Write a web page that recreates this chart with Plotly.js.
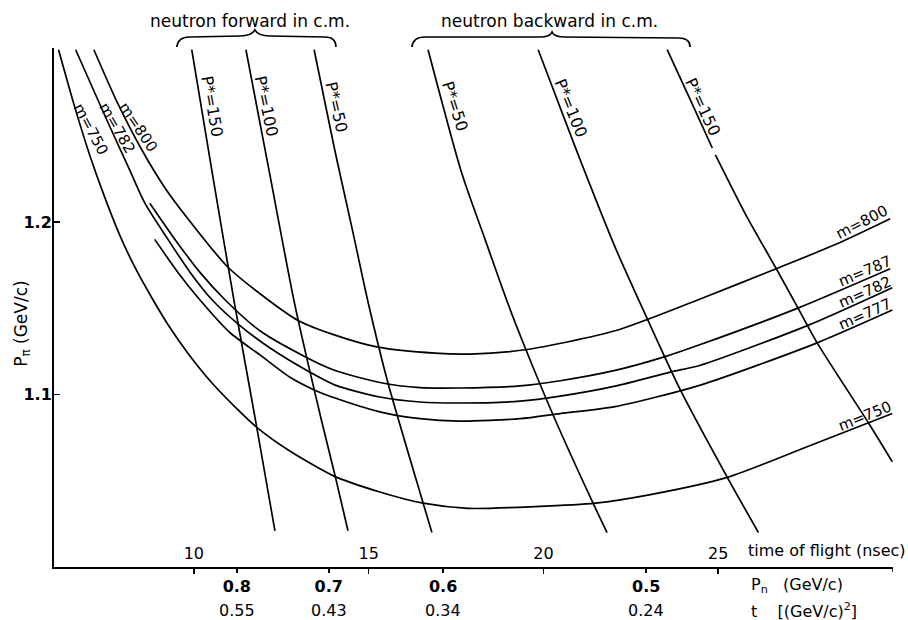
<!DOCTYPE html>
<html><head><meta charset="utf-8">
<script src="https://cdn.plot.ly/plotly-3.0.1.min.js"></script>
<style>html,body{margin:0;padding:0;background:#fff}#chart{width:908px;height:620px}</style>
</head><body><div id="chart"></div>
<script>
// ---- data: time of flight (nsec) and P_pi (GeV/c) ----
const tof_m800 = [7.14,7.82,8.51,9.17,9.83,10.97,12.12,12.98,14.04,15.27,16.90,17.90,19.48,22.05,24.43,26.66,28.35,29.92];
const p_m800   = [1.300,1.269,1.242,1.220,1.202,1.174,1.155,1.143,1.1345,1.1275,1.124,1.1235,1.126,1.137,1.155,1.173,1.187,1.202];
const tof_m787 = [8.74,9.46,10.17,10.89,11.89,13.18,14.04,15.32,16.47,17.61,19.33,20.48,22.05,23.48,24.49,27.26,29.92];
const p_m787   = [1.211,1.190,1.171,1.155,1.137,1.122,1.114,1.107,1.104,1.1038,1.105,1.108,1.114,1.122,1.129,1.150,1.173];
const tof_m782 = [6.62,7.45,8.17,8.60,9.26,9.89,10.52,11.32,12.18,13.32,14.04,15.32,16.47,17.61,19.33,20.48,22.05,23.63,24.49,27.55,29.98];
const p_m782   = [1.300,1.262,1.230,1.211,1.190,1.171,1.155,1.140,1.127,1.113,1.1055,1.0986,1.0957,1.0951,1.0962,1.0991,1.1049,1.113,1.117,1.140,1.162];
const tof_m777 = [8.88,9.54,10.17,11.03,11.89,12.75,13.41,14.04,15.32,16.47,17.61,19.33,20.48,22.05,24.49,27.83,29.98];
const p_m777   = [1.190,1.171,1.155,1.136,1.123,1.110,1.103,1.098,1.090,1.086,1.0846,1.086,1.089,1.093,1.1055,1.130,1.149];
const tof_m750 = [6.13,6.59,7.02,7.45,7.88,8.31,8.83,9.31,9.83,10.52,11.17,11.80,12.69,13.98,15.32,16.56,17.84,19.76,21.48,23.06,25.26,27.58,29.98];
const p_m750   = [1.300,1.267,1.239,1.2145,1.1925,1.174,1.155,1.139,1.124,1.1067,1.093,1.081,1.068,1.053,1.0435,1.037,1.034,1.035,1.037,1.042,1.052,1.070,1.089];

const tof_f150 = [9.94,10.54,11.17,11.80,12.32];
const p_f150   = [1.300,1.227,1.152,1.081,1.021];
const tof_f100 = [11.49,12.18,12.89,13.64,14.04,14.41];
const p_f100   = [1.300,1.227,1.152,1.086,1.053,1.021];
const tof_f50  = [13.44,14.04,14.52,14.98,15.55,16.56,16.81];
const p_f50    = [1.300,1.241,1.197,1.154,1.107,1.037,1.020];
const tof_b50  = [16.70,17.67,18.33,18.99,19.48,20.28,21.42,21.82];
const p_b50    = [1.300,1.228,1.190,1.1525,1.127,1.088,1.037,1.020];
const tof_b100 = [19.85,20.91,22.05,22.97,23.91,25.26,26.15];
const p_b100   = [1.300,1.2435,1.1855,1.144,1.103,1.052,1.020];
const tof_b150 = [23.54,24.20,24.83,null,24.92,25.77,26.66,27.26,27.83,29.30,29.98];
const p_b150   = [1.300,1.271,1.243,null,1.239,1.205,1.173,1.151,1.130,1.0835,1.061];

// ---- tick labels ----
const tofTicks = [10,15,20,25];
const tofTickText = ['10','15','20','25'];
const pnTickPos = [11.23,13.86,17.13,22.94];
const pnTickText = ['0.8','0.7','0.6','0.5'];
const tTickText = ['0.55','0.43','0.34','0.24'];
const pTicks = [1.0,1.1,1.2];
const pTickText = ['1.0','1.1','1.2'];
const tofAxisEnd = 30;

const FONT = 'DejaVu Sans, Liberation Sans, sans-serif';
const LW = 1.7;

function curve(x, y) {
  return {x: x, y: y, type: 'scatter', mode: 'lines', connectgaps: false,
          line: {color: '#000', width: LW, shape: 'spline', smoothing: 0.7},
          hoverinfo: 'skip', showlegend: false};
}

const traces = [
  curve(tof_m800, p_m800), curve(tof_m787, p_m787), curve(tof_m782, p_m782),
  curve(tof_m777, p_m777), curve(tof_m750, p_m750),
  curve(tof_f150, p_f150), curve(tof_f100, p_f100), curve(tof_f50, p_f50),
  curve(tof_b50, p_b50), curve(tof_b100, p_b100), curve(tof_b150, p_b150),
  {x: [6, 30], y: [null, null], xaxis: 'x2', type: 'scatter', mode: 'lines', hoverinfo: 'skip', showlegend: false}
];

function lab(text, x, y, angle, size) {
  return {text: text, x: x, y: y, xref: 'x', yref: 'y', textangle: angle, showarrow: false,
          font: {family: FONT, size: size || 15, color: '#000'}, xanchor: 'center', yanchor: 'middle'};
}
function ptxt(text, x, y, size, anchor, extra) {
  const a = {text: text, x: x, y: y, xref: 'paper', yref: 'paper', showarrow: false,
             font: {family: FONT, size: size, color: '#000'}, xanchor: anchor, yanchor: 'middle'};
  return Object.assign(a, extra || {});
}

const annotations = [
  lab('m=750', 7.05, 1.254, 62), lab('m=782', 7.80, 1.2545, 60), lab('m=800', 8.40, 1.255, 56),
  lab('P*=150', 10.52, 1.267, 80, 16), lab('P*=100', 12.07, 1.267, 78, 16),
  lab('P*=50', 14.07, 1.267, 77, 16), lab('P*=50', 17.47, 1.267, 72, 16),
  lab('P*=100', 20.79, 1.266, 68, 16), lab('P*=150', 24.57, 1.2667, 65, 16),
  lab('m=800', 29.12, 1.200, -27), lab('m=787', 29.21, 1.1716, -23), lab('m=782', 29.21, 1.1594, -24),
  lab('m=777', 29.21, 1.1467, -24), lab('m=750', 29.21, 1.0875, -22),
  ptxt('neutron forward in c.m.', 0.2334, 1.052, 17, 'center'),
  ptxt('neutron backward in c.m.', 0.590, 1.052, 17, 'center'),
  ptxt('time of flight (nsec)', 0.8250, 0.031, 16, 'left'),
  ptxt('P<sub>n</sub>\u00a0\u00a0\u00a0(GeV/c)', 0.828, -0.035, 16, 'left'),
  ptxt('t\u00a0\u00a0\u00a0\u00a0[(GeV/c)<sup>2</sup>]', 0.828, -0.083, 16, 'left'),
  ptxt('P<sub>\u03c0</sub> (GeV/c)', -0.0385, 0.468, 17, 'center', {textangle: -90})
];
tTickText.forEach(function (t, i) {
  annotations.push({text: t, x: pnTickPos[i], y: -0.083, xref: 'x', yref: 'paper', showarrow: false,
    font: {family: FONT, size: 16, color: '#000'}, xanchor: 'center', yanchor: 'middle'});
});

const braceForward = 'M 0.1464,1.0019 Q 0.1476,1.0212 0.1619,1.0212 L 0.2215,1.0231 Q 0.2358,1.0231 0.2394,1.0347 Q 0.2430,1.0231 0.2573,1.0231 L 0.3229,1.0212 Q 0.3360,1.0212 0.3360,1.0019';
const braceBackward = 'M 0.4266,1.0019 Q 0.4278,1.0212 0.4421,1.0212 L 0.5793,1.0212 Q 0.5912,1.0212 0.5936,1.0308 Q 0.5960,1.0212 0.6091,1.0212 L 0.7439,1.0193 Q 0.7582,1.0193 0.7582,1.0019';

const layout = {
  width: 908, height: 620,
  margin: {l: 54, r: 15, t: 48, b: 53},
  paper_bgcolor: '#fff', plot_bgcolor: '#fff',
  font: {family: FONT, size: 15, color: '#000'},
  showlegend: false,
  xaxis: {range: [6, 30], showgrid: false, zeroline: false, showline: true, linecolor: '#000', linewidth: 2,
          tickmode: 'array', tickvals: tofTicks, ticktext: tofTickText, ticks: 'outside', ticklen: 5,
          tickwidth: 1.5, tickcolor: '#000', ticklabelposition: 'inside', ticklabelstandoff: 5,
          tickfont: {family: FONT, size: 16, color: '#000'}},
  xaxis2: {range: [6, 30], overlaying: 'x', anchor: 'y', side: 'bottom', showgrid: false, zeroline: false,
           showline: false, tickmode: 'array', tickvals: pnTickPos, ticktext: pnTickText,
           ticks: 'outside', ticklen: 5, tickwidth: 1.5, tickcolor: '#000',
           tickfont: {family: FONT, size: 16, weight: 'bold', color: '#000'}},
  yaxis: {range: [1.0, 1.301], showgrid: false, zeroline: false, showline: true, linecolor: '#000', linewidth: 2,
          tickmode: 'array', tickvals: pTicks, ticktext: pTickText, ticks: 'inside', ticklen: 6, tickwidth: 1.5,
          tickcolor: '#000', ticklabelstandoff: -3,
          tickfont: {family: FONT, size: 16, weight: 'bold', color: '#000'}},
  shapes: [
    {type: 'path', xref: 'paper', yref: 'paper', path: braceForward, line: {color: '#000', width: 1.7}},
    {type: 'path', xref: 'paper', yref: 'paper', path: braceBackward, line: {color: '#000', width: 1.7}},
    {type: 'line', xref: 'x', yref: 'paper', x0: tofAxisEnd, x1: tofAxisEnd, y0: 0, y1: -0.0096,
     line: {color: '#000', width: 1.5}}
  ],
  annotations: annotations
};

Plotly.newPlot('chart', traces, layout, {staticPlot: true, displayModeBar: false});
</script></body></html>
